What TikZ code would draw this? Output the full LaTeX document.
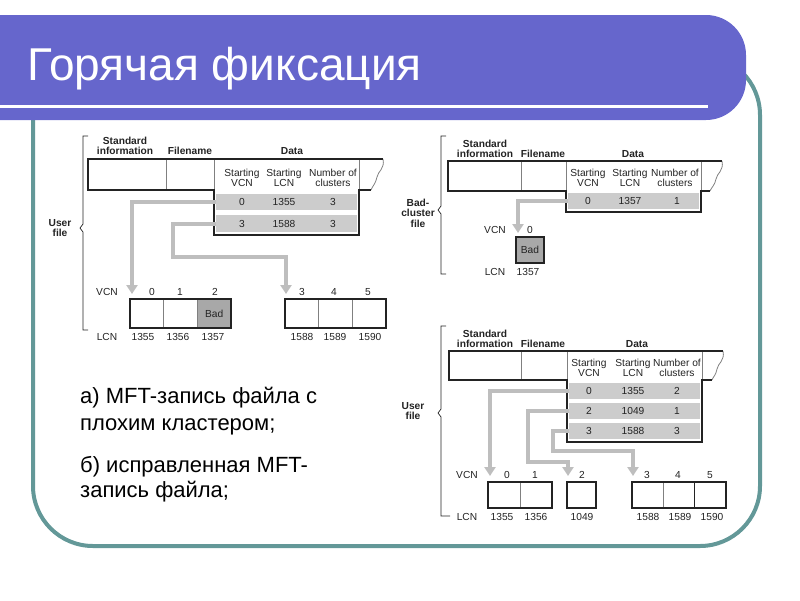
\documentclass[tikz,border=0pt]{standalone}
\usepackage{fontspec}
\setmainfont{Liberation Sans}
\usetikzlibrary{arrows.meta}
\definecolor{bannerblue}{RGB}{102,102,204}
\definecolor{frameteal}{RGB}{99,152,152}
\definecolor{rowgray}{RGB}{204,204,204}
\definecolor{badgray}{RGB}{168,168,168}
\definecolor{arrowgray}{RGB}{190,190,190}
\definecolor{inkgray}{RGB}{35,35,35}

\begin{document}
\begin{tikzpicture}[x=1pt, y=-1pt,
    txt/.style={font=\fontsize{10.2}{10.4}\selectfont, text=inkgray, inner sep=0pt, align=center},
    hdr/.style={txt, font=\fontsize{10.2}{10.4}\selectfont\bfseries},
    body/.style={anchor=base west, inner sep=0pt, font=\fontsize{22}{26}\selectfont},
    rowbox/.style={fill=rowgray, inner sep=0pt, minimum width=141, minimum height=16},
    cell/.style={txt, draw=gray, line width=0.8, minimum height=29},
    outline/.style={draw=inkgray, line width=2},
    thin/.style={draw=gray, line width=0.8},
    garrow/.style={draw=arrowgray, line width=4, -{Triangle[length=9,width=11]}},
    bracket/.style={draw=inkgray, line width=0.7}]
    \useasboundingbox (0,0) rectangle (800,600);
    % slide
    \draw[frameteal, line width=4, rounded corners=60] (33,55) rectangle (760,546);
    \fill[bannerblue, rounded corners=40] (-60,15) rectangle (746,120);
    \draw[white, line width=3] (-1,106) -- (708,106);
    \node[anchor=base west, inner sep=0pt, text=white, font=\fontsize{46}{50}\selectfont] (title) at (27,80) {Горячая фиксация};
    \node[body] (capa1) at (80,403) {а) MFT-запись файла с};
    \node[body] (capa2) at (80,430) {плохим кластером;};
    \node[body] (capb1) at (80,472) {б) исправленная MFT-};
    \node[body] (capb2) at (80,497) {запись файла;};

    % (a) user file with bad cluster
    \node[hdr] (a-std) at (125,146) {Standard\\information};
    \node[hdr] (a-fname) at (190,151) {Filename};
    \node[hdr] (a-data) at (292,151) {Data};
    \node[hdr] (a-user) at (60,228) {User\\file};
    \draw[bracket] (88,136) -- (83,136) -- (83,224) -- (80,228) -- (83,232) -- (83,330) -- (88,330);
    \node[txt] (a-hv) at (242,178) {Starting\\VCN};
    \node[txt] (a-hl) at (284,178) {Starting\\LCN};
    \node[txt] (a-hn) at (333,178) {Number of\\clusters};
    \node[rowbox] (a-r1) at (286.5,202) {};
    \node[rowbox, minimum height=17] (a-r2) at (286.5,223.5) {};
    \node[txt] (a-r1v) at (242,202) {0};
    \node[txt] (a-r1l) at (284,202) {1355};
    \node[txt] (a-r1n) at (333,202) {3};
    \node[txt] (a-r2v) at (242,224) {3};
    \node[txt] (a-r2l) at (284,224) {1588};
    \node[txt] (a-r2n) at (333,224) {3};
    \draw[thin] (166,159) -- (166,190) (214,159) -- (214,190) (359,159) -- (359,190);
    \draw[thin] (383,159) .. controls +(2,10) and +(1,-6) .. (377,177) .. controls +(-1,6) and +(1,-3) .. (371,190);
    \draw[outline] (383,159) -- (88,159) -- (88,190) -- (214,190) -- (214,235) -- (359,235) -- (359,190) -- (371,190);
    \node[cell, minimum width=33.7] (a-c0) at (146.8,313.5) {};
    \node[cell, minimum width=33.7] (a-c1) at (180.5,313.5) {};
    \node[cell, minimum width=33.7, fill=badgray] (a-c2) at (214.2,313.5) {Bad};
    \draw[outline] (a-c0.north west) rectangle (a-c2.south east);
    \node[cell, minimum width=33.7] (a-c3) at (301.8,313.5) {};
    \node[cell, minimum width=33.7] (a-c4) at (335.5,313.5) {};
    \node[cell, minimum width=33.7] (a-c5) at (369.2,313.5) {};
    \draw[outline] (a-c3.north west) rectangle (a-c5.south east);
    \node[txt] (a-vcn) at (107,292) {VCN};
    \node[txt] (a-v0) at (152,292) {0};
    \node[txt] (a-v1) at (180,292) {1};
    \node[txt] (a-v2) at (215,292) {2};
    \node[txt] (a-v3) at (302,292) {3};
    \node[txt] (a-v4) at (334,292) {4};
    \node[txt] (a-v5) at (368,292) {5};
    \node[txt] (a-lcn) at (107,337) {LCN};
    \node[txt] (a-l0) at (143,337) {1355};
    \node[txt] (a-l1) at (178,337) {1356};
    \node[txt] (a-l2) at (213,337) {1357};
    \node[txt] (a-l3) at (302,337) {1588};
    \node[txt] (a-l4) at (335,337) {1589};
    \node[txt] (a-l5) at (370,337) {1590};
    \coordinate (a-t0) at (132,294);
    \coordinate (a-k3) at (173,257);
    \coordinate (a-t3) at (286,294);
    \draw[garrow] (a-r1.west) -| (a-t0);
    \draw[garrow] (a-r2.west) -| (a-k3) -| (a-t3);

    % (b) bad-cluster file
    \node[hdr] (b-std) at (485,149) {Standard\\information};
    \node[hdr] (b-fname) at (543,154) {Filename};
    \node[hdr] (b-data) at (633,154) {Data};
    \node[hdr] (b-bad) at (418,213) {Bad-\\cluster\\file};
    \draw[bracket] (446,136) -- (441,136) -- (441,206) -- (438,210) -- (441,214) -- (441,274) -- (446,274);
    \node[txt] (b-hv) at (588,178) {Starting\\VCN};
    \node[txt] (b-hl) at (630,178) {Starting\\LCN};
    \node[txt] (b-hn) at (675,178) {Number of\\clusters};
    \node[rowbox, minimum width=131] (b-r1) at (633.5,201) {};
    \node[txt] (b-r1v) at (588,201) {0};
    \node[txt] (b-r1l) at (630,201) {1357};
    \node[txt] (b-r1n) at (677,201) {1};
    \draw[thin] (521,161) -- (521,191) (566,161) -- (566,191) (701,161) -- (701,191);
    \draw[thin] (722,161) .. controls +(2,10) and +(1,-6) .. (716,179) .. controls +(-1,6) and +(1,-3) .. (710,191);
    \draw[outline] (722,161) -- (448,161) -- (448,191) -- (566,191) -- (566,212) -- (701,212) -- (701,191) -- (710,191);
    \node[cell, minimum width=28, minimum height=26, fill=badgray, outline] (b-c0) at (530,250) {Bad};
    \node[txt] (b-vcn) at (495,230) {VCN};
    \node[txt] (b-v0) at (530,230) {0};
    \node[txt] (b-lcn) at (495,272) {LCN};
    \node[txt] (b-l0) at (528,272) {1357};
    \coordinate (b-t0) at (518,233);
    \draw[garrow] (b-r1.west) -| (b-t0);

    % (c) repaired user file
    \node[hdr] (c-std) at (485,339) {Standard\\information};
    \node[hdr] (c-fname) at (543,344) {Filename};
    \node[hdr] (c-data) at (637,344) {Data};
    \node[hdr] (c-user) at (413,411) {User\\file};
    \draw[bracket] (446,326) -- (441,326) -- (441,409) -- (438,413) -- (441,417) -- (441,516) -- (450,516);
    \node[txt] (c-hv) at (589,368) {Starting\\VCN};
    \node[txt] (c-hl) at (633,368) {Starting\\LCN};
    \node[txt] (c-hn) at (677,368) {Number of\\clusters};
    \node[rowbox, minimum width=131] (c-r1) at (634.5,390.5) {};
    \node[rowbox, minimum width=131] (c-r2) at (634.5,410.5) {};
    \node[rowbox, minimum width=131] (c-r3) at (634.5,430.5) {};
    \node[txt] (c-r1v) at (589,391) {0};
    \node[txt] (c-r1l) at (633,391) {1355};
    \node[txt] (c-r1n) at (677,391) {2};
    \node[txt] (c-r2v) at (589,411) {2};
    \node[txt] (c-r2l) at (633,411) {1049};
    \node[txt] (c-r2n) at (677,411) {1};
    \node[txt] (c-r3v) at (589,431) {3};
    \node[txt] (c-r3l) at (633,431) {1588};
    \node[txt] (c-r3n) at (677,431) {3};
    \draw[thin] (521,351) -- (521,380) (567,351) -- (567,380) (702,351) -- (702,380);
    \draw[thin] (723,351) .. controls +(2,10) and +(1,-6) .. (717,369) .. controls +(-1,6) and +(1,-3) .. (712,380);
    \draw[outline] (723,351) -- (449,351) -- (449,380) -- (567,380) -- (567,442) -- (702,442) -- (702,380) -- (712,380);
    \node[cell, minimum width=32, minimum height=26] (c-c0) at (504,495) {};
    \node[cell, minimum width=32, minimum height=26] (c-c1) at (536,495) {};
    \draw[outline] (c-c0.north west) rectangle (c-c1.south east);
    \node[cell, minimum width=29, minimum height=26, outline] (c-c2) at (581.5,495) {};
    \node[cell, minimum width=31.3, minimum height=26] (c-c3) at (647.7,495) {};
    \node[cell, minimum width=31.3, minimum height=26] (c-c4) at (679,495) {};
    \node[cell, minimum width=31.3, minimum height=26, draw=inkgray] (c-c5) at (710.3,495) {};
    \draw[outline] (c-c3.north west) rectangle (c-c5.south east);
    \node[txt] (c-vcn) at (467,475) {VCN};
    \node[txt] (c-v0) at (507,475) {0};
    \node[txt] (c-v1) at (535,475) {1};
    \node[txt] (c-v2) at (582,475) {2};
    \node[txt] (c-v3) at (647,475) {3};
    \node[txt] (c-v4) at (678,475) {4};
    \node[txt] (c-v5) at (710,475) {5};
    \node[txt] (c-lcn) at (467,517) {LCN};
    \node[txt] (c-l0) at (502,517) {1355};
    \node[txt] (c-l1) at (536,517) {1356};
    \node[txt] (c-l2) at (582,517) {1049};
    \node[txt] (c-l3) at (648,517) {1588};
    \node[txt] (c-l4) at (680,517) {1589};
    \node[txt] (c-l5) at (712,517) {1590};
    \coordinate (c-t0) at (490,476);
    \coordinate (c-k2) at (528,462);
    \coordinate (c-t2) at (568,476);
    \coordinate (c-k3) at (553,451);
    \coordinate (c-t3) at (633,476);
    \draw[garrow] (c-r1.west) -| (c-t0);
    \draw[garrow] (c-r2.west) -| (c-k2) -| (c-t2);
    \draw[garrow] (c-r3.west) -| (c-k3) -| (c-t3);
\end{tikzpicture}
\end{document}
